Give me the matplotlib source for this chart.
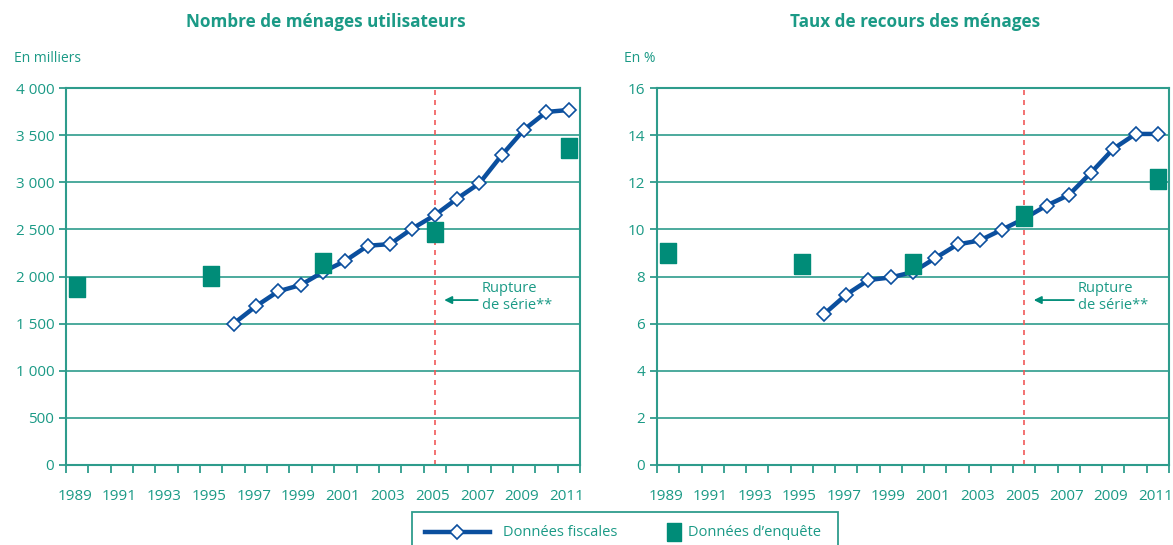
import numpy as np
import matplotlib
matplotlib.use("Agg")
from matplotlib import pyplot as plt
from matplotlib.lines import Line2D
from matplotlib.patches import Rectangle

plt.rcParams['font.family'] = ['Open Sans', 'DejaVu Sans']

TEAL = '#1b9a86'
GRID = '#2e9c8c'
SQUARE = '#008c78'
BLUE = '#0b4f9e'
RED = '#f05a5a'

years = list(range(1989, 2012))
year_labels = [str(y) for y in range(1989, 2012, 2)]

fiscal_years = list(range(1996, 2012))
fiscal_menages = [1500, 1685, 1843, 1910, 2048, 2167, 2326, 2344, 2509, 2650,
                  2826, 2989, 3288, 3559, 3746, 3767]
fiscal_taux = [6.4, 7.23, 7.85, 7.96, 8.19, 8.78, 9.36, 9.53, 9.99, 10.46,
               11.01, 11.46, 12.41, 13.42, 14.05, 14.05]

survey_years = [1989, 1995, 2000, 2005, 2011]
survey_menages = [1893, 2009, 2146, 2474, 3362]
survey_taux = [9.01, 8.54, 8.54, 10.57, 12.14]

rupture_year = 2005

# rectangle marker (taller than wide)
rect = [(-0.8, -1), (0.8, -1), (0.8, 1), (-0.8, 1), (-0.8, -1)]

W, H = 1173, 545
fig = plt.figure(figsize=(W/100, H/100), dpi=100)
ax1 = fig.add_axes([66/W, 1-465/H, 514/W, 377/H])
ax2 = fig.add_axes([657/W, 1-465/H, 512/W, 377/H])


def px(x, y):
    return x / W, 1 - y / H


def draw(ax, fiscal, survey, ymax, ystep, yfmt, title, title_x, unit, unit_x, ann_x):
    xi = lambda ys: [years.index(y) for y in ys]
    ax.set_xlim(-0.5, len(years) - 0.5)
    ax.set_ylim(0, ymax)
    for v in np.arange(ystep, ymax + ystep/2, ystep):
        ax.axhline(v, color=GRID, lw=1.2, zorder=1)
    ax.axvline(years.index(rupture_year), color=RED, lw=1.2, ls=(0, (3, 3)), zorder=2)
    ax.plot(xi(fiscal_years), fiscal, color=BLUE, lw=3.2, marker='D', ms=7,
            mfc='white', mec=BLUE, mew=1.2, zorder=3)
    ax.plot(xi(survey_years), survey, ls='none', marker=rect, ms=14.5,
            color=SQUARE, mec=SQUARE, zorder=4)

    for s in ax.spines.values():
        s.set_color(GRID)
        s.set_linewidth(1.5)
    ax.set_yticks(np.arange(0, ymax + ystep/2, ystep))
    ax.set_yticklabels([yfmt(v) for v in np.arange(0, ymax + ystep/2, ystep)])
    ax.set_xticks([years.index(int(y)) - 0.1 for y in year_labels])
    ax.set_xticklabels(year_labels)
    ax.set_xticks(np.arange(-0.5, len(years), 1), minor=True)
    ax.tick_params(axis='x', which='major', length=0, pad=17, labelsize=11, labelcolor=TEAL)
    ax.tick_params(axis='x', which='minor', length=6, width=1.3, color=GRID, direction='out')
    ax.tick_params(axis='y', length=5, width=1.3, color=GRID, labelsize=11, labelcolor=TEAL)

    fig.text(*px(title_x, 22), title, color=TEAL, fontsize=12.3, fontweight='bold',
             ha='center', va='center')
    fig.text(*px(unit_x, 58), unit, color=TEAL, fontsize=10, ha='left', va='center')

    ym = ymax * 0.4375
    ax.annotate('', xy=(years.index(rupture_year) + 0.3, ym),
                xytext=(ann_x - 0.05, ym),
                arrowprops=dict(arrowstyle='-|>', color=SQUARE, lw=1.3, mutation_scale=11))
    ax.text(ann_x, ym + ymax*0.008, 'Rupture\nde série**', color=TEAL, fontsize=10.5,
            ha='left', va='center', linespacing=1.15)


draw(ax1, fiscal_menages, survey_menages, 4000, 500,
     lambda v: '{:,}'.format(int(v)).replace(',', ' '),
     'Nombre de ménages utilisateurs', 326, 'En milliers', 14, 18.1)
draw(ax2, fiscal_taux, survey_taux, 16, 2,
     lambda v: str(int(v)),
     'Taux de recours des ménages', 915, 'En %', 624, 18.4)

# legend box drawn by hand at the bottom
fig.add_artist(Rectangle(px(412, 560), 426/W, 48/H, transform=fig.transFigure,
                         fill=False, edgecolor=GRID, lw=1.3))
fig.add_artist(Line2D([425/W, 490/W], [1-532/H]*2, transform=fig.transFigure,
                      color=BLUE, lw=3.2))
fig.add_artist(Line2D([457/W], [1-532/H], transform=fig.transFigure, marker='D', ms=7,
                      mfc='white', mec=BLUE, mew=1.2, ls='none'))
fig.text(*px(503, 532), 'Données fiscales', color=TEAL, fontsize=10.5, va='center')
fig.add_artist(Line2D([674/W], [1-532/H], transform=fig.transFigure, marker=rect,
                      ms=13, color=SQUARE, ls='none'))
fig.text(*px(688, 532), 'Données d\u2019enquête', color=TEAL, fontsize=10.5, va='center')

fig.savefig('out.png', dpi=100)
